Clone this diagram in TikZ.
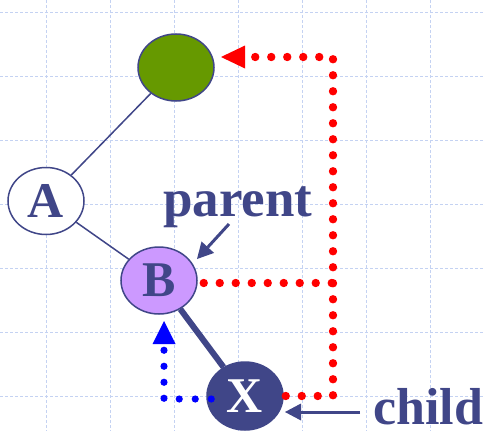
\documentclass[tikz,border=0pt]{standalone}
\usepackage{fontspec}
\setmainfont{Liberation Serif}
\usetikzlibrary{shapes.geometric,arrows.meta,decorations.markings}
\definecolor{navy}{RGB}{64,70,136}
\definecolor{leaf}{RGB}{102,153,0}
\definecolor{lilac}{RGB}{204,153,255}
\definecolor{gridblue}{RGB}{196,210,242}
\tikzset{
  gridline/.style={gridblue, line width=0.8pt, dash pattern=on 3pt off 2pt},
  ell/.style={ellipse, draw=navy, line width=1.5pt, minimum width=76pt, minimum height=67pt,
    inner sep=0pt, text=navy, font=\fontsize{50}{50}\selectfont\bfseries},
  lbl/.style={inner sep=0pt, text=navy, font=\fontsize{53}{53}\selectfont\bfseries},
  treeedge/.style={navy, line width=1.5pt},
  dotted path/.style 2 args={postaction={decorate}, decoration={markings,
    mark=between positions 0 and 1 step 16pt with {\fill[#1] (0,0) circle (#2);}}},
  redtip/.style={red, line width=0.5pt, -{Triangle[length=24pt,width=23pt,line width=0pt]}},
  bluetip/.style={blue, line width=0.5pt, -{Triangle[length=23pt,width=23pt,line width=0pt]}},
  pointer/.style={navy, line width=3pt, -{Triangle[length=16pt,width=17pt,line width=0pt]}}
}
\begin{document}
\begin{tikzpicture}[x=1pt,y=-1pt]
\useasboundingbox (0,0) rectangle (485,431);
\fill[white] (0,0) rectangle (485,431);
\foreach \gx in {46,110,174,238,302,366,430} \draw[gridline] (\gx,0) -- (\gx,431);
\foreach \gy in {12,76,140,204,268,332,396} \draw[gridline] (0,\gy) -- (485,\gy);

\node[ell, fill=leaf] (G) at (176,67.5) {};
\node[ell, fill=white] (A) at (46,201) {A};
\node[ell, fill=lilac] (B) at (159,280.5) {B};
\node[ell, fill=navy, text=white, minimum height=68pt] (X) at (245,396) {X};

\draw[treeedge] (G) -- (A);
\draw[treeedge] (A) -- (B);
\draw[navy, line width=6pt] (B) -- (X);

% red dotted path from X to the grandparent
\coordinate (r1) at (333,396);
\coordinate (r2) at (333,57);
\coordinate (rbase) at (245,57);
\coordinate (rtip) at (221,57);
\path[dotted path={red}{4.2pt}] ([xshift=2pt]X.east) -- (r1) -- (r2) -- (rbase);
\draw[redtip] (rbase) -- (rtip);
% red dotted path from B
\coordinate (r3) at (333,283);
\path[dotted path={red}{4.2pt}] ([xshift=6pt,yshift=-2.5pt]B.east) -- (r3);

% blue dotted path from X to B
\coordinate (b1) at (164,399);
\coordinate (bbase) at (164,344);
\coordinate (btip) at (164,321);
\path[dotted path={blue}{3.6pt}] ([xshift=5pt,yshift=-3pt]X.west) -- (b1) -- (bbase);
\draw[bluetip] (bbase) -- (btip);

\node[lbl, anchor=base west] (parent) at (163,216) {parent};
\node[lbl, anchor=base west, font=\fontsize{52}{52}\selectfont\bfseries] (child) at (373,424) {child};

\coordinate (ps) at (229,224);
\coordinate (pt) at (197,259);
\draw[pointer] (ps) -- (pt);
\coordinate (cs) at (360,412);
\coordinate (ct) at (285,412);
\draw[pointer] (cs) -- (ct);
\end{tikzpicture}
\end{document}
